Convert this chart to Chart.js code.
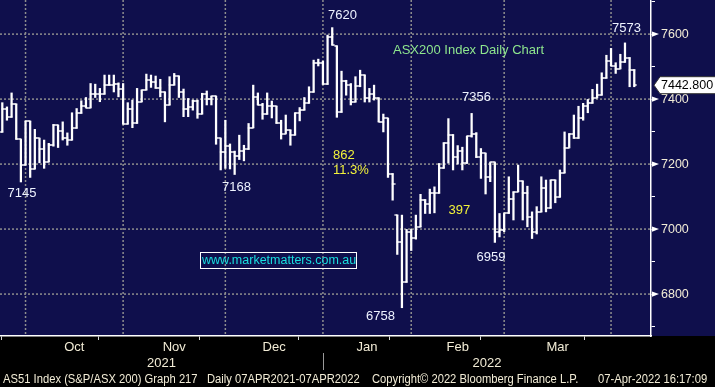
<!DOCTYPE html>
<html><head><meta charset="utf-8">
<script src="https://cdn.jsdelivr.net/npm/chart.js@4.4.1/dist/chart.umd.min.js"></script>
<style>
html,body{margin:0;padding:0;background:#000;}
#wrap{position:relative;width:715px;height:387px;overflow:hidden;}
#c{position:absolute;left:0;top:0;}
.t{position:absolute;white-space:nowrap;font-family:"Liberation Sans",Arial,sans-serif;line-height:1;font-size:13px;}
.n{color:#eef3ff;}
.yel{color:#f2f23a;}
.ft{font-size:12px;color:#f2ecd6;top:372.7px;transform:scaleX(0.935);transform-origin:0 0;}
#url{position:absolute;left:200px;top:251.5px;width:157px;height:17.5px;box-sizing:border-box;border:1.5px solid #fff;
 color:#19dede;font-family:"Liberation Sans",Arial,sans-serif;font-size:12.5px;line-height:1;display:flex;align-items:center;padding-left:1px;white-space:nowrap;}
</style></head><body>
<div id="wrap">
<canvas id="c" width="715" height="387"></canvas>
<div class="t n" style="left:328px;top:8.3px">7620</div>
<div class="t n" style="left:612px;top:21px">7573</div>
<div class="t n" style="left:462px;top:90.3px">7356</div>
<div class="t n" style="left:7.5px;top:185.6px">7145</div>
<div class="t n" style="left:222px;top:180.3px">7168</div>
<div class="t n" style="left:476.5px;top:250.3px">6959</div>
<div class="t n" style="left:366px;top:309.3px">6758</div>
<div class="t yel" style="left:333px;top:147.6px">862</div>
<div class="t yel" style="left:333px;top:163.3px">11.3%</div>
<div class="t yel" style="left:448.5px;top:203.3px">397</div>
<div class="t" style="left:393px;top:43.3px;color:#8ee68e">ASX200 Index Daily Chart</div>
<div id="url">www.marketmatters.com.au</div>
<div class="t ft" style="left:2.5px">AS51 Index (S&amp;P/ASX 200) Graph 217</div>
<div class="t ft" style="left:206.5px">Daily 07APR2021-07APR2022</div>
<div class="t ft" style="left:372px">Copyright© 2022 Bloomberg Finance L.P.</div>
<div class="t ft" style="left:598px">07-Apr-2022 16:17:09</div>
</div>
<script>
// ---- DATA ----
const dates = [
"2021-09-23","2021-09-24","2021-09-27","2021-09-28","2021-09-29","2021-09-30",
"2021-10-01","2021-10-04","2021-10-05","2021-10-06","2021-10-07","2021-10-08","2021-10-11","2021-10-12","2021-10-13","2021-10-14","2021-10-15","2021-10-18","2021-10-19","2021-10-20","2021-10-21","2021-10-22","2021-10-25","2021-10-26","2021-10-27","2021-10-28","2021-10-29",
"2021-11-01","2021-11-02","2021-11-03","2021-11-04","2021-11-05","2021-11-08","2021-11-09","2021-11-10","2021-11-11","2021-11-12","2021-11-15","2021-11-16","2021-11-17","2021-11-18","2021-11-19","2021-11-22","2021-11-23","2021-11-24","2021-11-25","2021-11-26","2021-11-29","2021-11-30",
"2021-12-01","2021-12-02","2021-12-03","2021-12-06","2021-12-07","2021-12-08","2021-12-09","2021-12-10","2021-12-13","2021-12-14","2021-12-15","2021-12-16","2021-12-17","2021-12-20","2021-12-21","2021-12-22","2021-12-23","2021-12-24","2021-12-29","2021-12-30","2021-12-31",
"2022-01-04","2022-01-05","2022-01-06","2022-01-07","2022-01-10","2022-01-11","2022-01-12","2022-01-13","2022-01-14","2022-01-17","2022-01-18","2022-01-19","2022-01-20","2022-01-21","2022-01-24","2022-01-25","2022-01-27","2022-01-28","2022-01-31",
"2022-02-01","2022-02-02","2022-02-03","2022-02-04","2022-02-07","2022-02-08","2022-02-09","2022-02-10","2022-02-11","2022-02-14","2022-02-15","2022-02-16","2022-02-17","2022-02-18","2022-02-21","2022-02-22","2022-02-23","2022-02-24","2022-02-25","2022-02-28",
"2022-03-01","2022-03-02","2022-03-03","2022-03-04","2022-03-07","2022-03-08","2022-03-09","2022-03-10","2022-03-11","2022-03-14","2022-03-15","2022-03-16","2022-03-17","2022-03-18","2022-03-21","2022-03-22","2022-03-23","2022-03-24","2022-03-25","2022-03-28","2022-03-29","2022-03-30","2022-03-31",
"2022-04-01","2022-04-04","2022-04-05","2022-04-06","2022-04-07"];

const openV = [7298,7371,7344,7385,7276,7197,7332,7185,7279,7248,
7207,7258,7320,7302,7279,7274,7310,7358,7379,7374,
7415,7415,7415,7443,7443,7448,7430,7323,7371,7325,
7392,7428,7458,7453,7433,7422,7382,7443,7471,7421,
7369,7376,7395,7354,7415,7399,7409,7279,7238,7255,
7236,7225,7240,7245,7312,7405,7382,7353,7378,7378,
7325,7294,7305,7289,7356,7366,7387,7421,7510,7512,
7445,7590,7564,7359,7455,7443,7391,7440,7474,7403,
7415,7404,7330,7341,7171,7043,6959,6836,6992,6972,
7007,7089,7077,7110,7110,7187,7266,7291,7222,7240,
7204,7286,7292,7222,7233,7161,7205,6990,6997,7048,
7094,7115,7148,7110,7036,6991,7053,7127,7064,7151,
7098,7173,7251,7294,7279,7341,7378,7387,7404,7412,
7464,7517,7502,7494,7513,7528,7491];

const highV = [7389,7376,7419,7385,7276,7332,7332,7307,7279,7274,
7264,7322,7320,7330,7296,7358,7371,7395,7405,7448,
7446,7433,7474,7474,7474,7450,7448,7389,7397,7433,
7428,7477,7474,7471,7461,7422,7469,7479,7471,7431,
7402,7397,7397,7418,7425,7409,7409,7279,7335,7262,
7240,7289,7258,7325,7443,7419,7387,7419,7394,7378,
7335,7351,7305,7358,7374,7405,7438,7520,7523,7517,
7597,7620,7564,7486,7458,7448,7469,7489,7474,7433,
7443,7404,7354,7341,7171,7043,7043,6999,6999,7043,
7107,7091,7123,7130,7202,7266,7340,7291,7257,7252,
7286,7356,7297,7248,7233,7205,7205,7048,7048,7161,
7115,7197,7148,7132,7053,7069,7161,7151,7151,7151,
7182,7299,7294,7351,7378,7387,7399,7430,7446,7481,
7535,7556,7512,7538,7573,7528,7491];

const lowV = [7298,7335,7344,7276,7145,7197,7159,7185,7204,7187,
7207,7255,7251,7274,7258,7274,7310,7356,7374,7374,
7405,7392,7415,7443,7422,7407,7323,7323,7312,7325,
7392,7428,7436,7433,7407,7330,7382,7443,7405,7346,
7346,7366,7341,7354,7382,7382,7261,7182,7187,7185,
7168,7214,7210,7245,7312,7382,7338,7353,7342,7325,
7277,7294,7258,7289,7333,7366,7387,7421,7502,7445,
7445,7566,7344,7359,7412,7382,7391,7438,7391,7391,
7397,7330,7299,7159,7089,6922,6758,6836,6934,6969,
7007,7048,7048,7050,7110,7187,7203,7182,7200,7182,
7202,7283,7220,7156,7108,7146,6959,6976,6992,7048,
7028,7115,7028,7007,6971,6985,7053,7053,7064,7081,
7098,7173,7251,7279,7279,7335,7358,7387,7404,7412,
7464,7502,7479,7494,7513,7438,7438];

const closeV = [7371,7344,7385,7276,7197,7332,7185,7279,7248,7207,
7258,7320,7302,7279,7274,7310,7358,7379,7374,7415,
7415,7415,7443,7443,7448,7430,7323,7371,7325,7392,
7428,7458,7453,7433,7422,7382,7443,7471,7421,7369,
7376,7395,7354,7415,7399,7409,7279,7238,7255,7236,
7225,7240,7245,7312,7405,7382,7353,7378,7378,7325,
7294,7305,7289,7356,7366,7387,7421,7510,7512,7445,
7590,7566,7359,7455,7443,7391,7440,7474,7403,7415,
7404,7330,7341,7171,7138,6959,6836,6992,6972,7007,
7089,7077,7110,7110,7187,7266,7291,7222,7240,7204,
7286,7292,7222,7233,7161,7205,6990,6997,7048,7094,
7115,7148,7110,7036,6991,7053,7127,7064,7151,7098,
7173,7251,7294,7279,7341,7378,7387,7404,7412,7464,
7517,7502,7494,7513,7528,7491,7442.8];

const monthNames = ["Oct","Nov","Dec","Jan","Feb","Mar"];
const yearNames = ["2021","2022"];
const yTickValues = [6700,6800,6900,7000,7100,7200,7300,7400,7500,7600,7700];
const yLabelled = [6800,7000,7200,7400,7600];
const lastPrice = 7442.8;

// ---- STYLE ----
const FONT = '"Liberation Sans", Arial, sans-serif';
const NAVY = '#0f0f4c';
const GRID = '#8e8e8e';
const LABEL = '#f2ecd6';
const X_MIN = -0.495, X_MAX = 139.6;

// month boundaries = last trading day of each month (derived from the dates)
const bounds = [];
for (let i = 0; i < dates.length - 1; i++) {
  if (dates[i].slice(0,7) !== dates[i+1].slice(0,7)) bounds.push(i);
}
const mids = [];
for (let k = 0; k < bounds.length - 1; k++) mids.push((bounds[k] + bounds[k+1]) / 2);
const yearBreak = bounds.find(i => dates[i].slice(0,4) !== dates[i+1].slice(0,4));
const yearMids = [(X_MIN + yearBreak) / 2, (yearBreak + X_MAX) / 2];

const xTicks = [];
bounds.forEach(v => xTicks.push({value: v, label: '', b: true}));
mids.forEach((v, k) => xTicks.push({value: v, label: monthNames[k], b: false}));
xTicks.sort((a, b) => a.value - b.value);

function tickImg(left) {
  const c = document.createElement('canvas');
  c.width = 6; c.height = 2;
  const g = c.getContext('2d');
  g.fillStyle = '#ffffff';
  g.fillRect(left ? 0.5 : 2.5, 0.25, 3, 1.5);
  return c;
}

function noPad(s) { s.paddingLeft = 0; s.paddingRight = 0; s.paddingTop = 0; s.paddingBottom = 0; }

const extras = {
  id: 'extras',
  beforeDraw(chart) {
    const {ctx, chartArea: a} = chart;
    ctx.save();
    ctx.fillStyle = '#000';
    ctx.fillRect(0, 0, chart.width, chart.height);
    ctx.fillStyle = NAVY;
    ctx.fillRect(0, 0, chart.width, a.bottom);
    ctx.restore();
  },
  beforeDatasetsDraw(chart) {
    const {ctx, chartArea: a} = chart;
    const ys = chart.scales.y, xs = chart.scales.x;
    ctx.save();
    ctx.strokeStyle = GRID;
    ctx.lineWidth = 1.5;
    ctx.setLineDash([2, 2]);
    yLabelled.forEach(v => {
      const p = ys.getPixelForValue(v);
      ctx.beginPath(); ctx.moveTo(a.left, p); ctx.lineTo(a.right, p); ctx.stroke();
    });
    bounds.forEach(v => {
      const p = xs.getPixelForValue(v);
      ctx.beginPath(); ctx.moveTo(p, a.top); ctx.lineTo(p, a.bottom); ctx.stroke();
    });
    ctx.restore();
  },
  afterDraw(chart) {
    const {ctx, chartArea: a} = chart;
    const ys = chart.scales.y, xs = chart.scales.x;
    ctx.save();
    ctx.fillStyle = '#ffffff';
    yLabelled.forEach(v => {
      const py = ys.getPixelForValue(v);
      ctx.beginPath();
      ctx.moveTo(a.right + 1, py - 2.7);
      ctx.lineTo(a.right + 8, py);
      ctx.lineTo(a.right + 1, py + 2.7);
      ctx.closePath();
      ctx.fill();
    });
    // last price box
    const py = ys.getPixelForValue(lastPrice);
    ctx.beginPath();
    ctx.moveTo(a.right + 3, py);
    ctx.lineTo(a.right + 9, py - 8.5);
    ctx.lineTo(chart.width + 2, py - 8.5);
    ctx.lineTo(chart.width + 2, py + 8.5);
    ctx.lineTo(a.right + 9, py + 8.5);
    ctx.closePath();
    ctx.fillStyle = '#ffffff';
    ctx.fill();
    ctx.strokeStyle = '#333';
    ctx.lineWidth = 1;
    ctx.stroke();
    ctx.fillStyle = '#000';
    ctx.font = '12.5px ' + FONT;
    ctx.textBaseline = 'middle';
    ctx.textAlign = 'left';
    ctx.fillText(lastPrice.toFixed(3), a.right + 10, py + 0.5);
    // year separator
    const px = Math.round(xs.getPixelForValue(yearBreak)) + 0.5;
    ctx.strokeStyle = '#9a9a9a';
    ctx.lineWidth = 1;
    ctx.beginPath();
    ctx.moveTo(px, 353);
    ctx.lineTo(px, 370);
    ctx.stroke();
    ctx.restore();
  }
};

const idx = dates.map((d, i) => i);

new Chart(document.getElementById('c'), {
  type: 'bar',
  data: {
    labels: dates,
    datasets: [
      {
        type: 'bar',
        label: 'High-Low',
        data: idx.map(i => ({x: i, y: [lowV[i], highV[i]]})),
        backgroundColor: '#ffffff',
        borderWidth: 0,
        barThickness: 1.6,
        xAxisID: 'x', yAxisID: 'y',
        order: 2
      },
      {
        type: 'scatter',
        label: 'Open',
        data: idx.map(i => ({x: i, y: openV[i]})),
        pointStyle: tickImg(true),
        pointRadius: 2,
        xAxisID: 'x', yAxisID: 'y',
        order: 1
      },
      {
        type: 'scatter',
        label: 'Close',
        data: idx.map(i => ({x: i, y: closeV[i]})),
        pointStyle: tickImg(false),
        pointRadius: 2,
        xAxisID: 'x', yAxisID: 'y',
        order: 1
      }
    ]
  },
  options: {
    responsive: false,
    devicePixelRatio: 1,
    animation: false,
    events: [],
    layout: {autoPadding: false, padding: {left: 0, right: 0, top: 0, bottom: 19}},
    plugins: {legend: {display: false}, tooltip: {enabled: false}},
    scales: {
      x: {
        type: 'linear', position: 'bottom', min: X_MIN, max: X_MAX, offset: false, weight: 0,
        afterBuildTicks: s => { s.ticks = xTicks.map(t => ({value: t.value})); },
        afterFit: s => { s.height = 16; noPad(s); },
        grid: {
          drawOnChartArea: false,
          tickLength: 4,
          tickWidth: 1,
          tickColor: c => (xTicks[c.index] && xTicks[c.index].b) ? '#d8d8d8' : 'rgba(0,0,0,0)'
        },
        border: {display: true, color: '#ffffff', width: 1.5},
        ticks: {
          autoSkip: false, maxRotation: 0, padding: 0, color: LABEL,
          font: {family: FONT, size: 13},
          callback: (v, i) => xTicks[i] ? xTicks[i].label : ''
        }
      },
      xYear: {
        type: 'linear', position: 'bottom', min: X_MIN, max: X_MAX, offset: false, weight: 1,
        afterBuildTicks: s => { s.ticks = yearMids.map(v => ({value: v})); },
        afterFit: s => { s.height = 16; noPad(s); },
        grid: {display: false, drawTicks: false},
        border: {display: false},
        ticks: {
          autoSkip: false, maxRotation: 0, padding: 3.5, color: LABEL,
          font: {family: FONT, size: 13},
          callback: (v, i) => yearNames[i]
        }
      },
      y: {
        type: 'linear', position: 'right', min: 6671, max: 7705,
        afterBuildTicks: s => { s.ticks = yTickValues.map(v => ({value: v})); },
        afterFit: s => { s.width = 64; noPad(s); },
        grid: {
          drawOnChartArea: false,
          tickLength: 4,
          tickWidth: 1,
          tickColor: '#ffffff'
        },
        border: {display: true, color: '#ffffff', width: 1.5},
        ticks: {
          padding: 6, color: LABEL,
          font: {family: FONT, size: 12.5},
          callback: v => yLabelled.includes(v) ? String(v) : ''
        }
      }
    }
  },
  plugins: [extras]
});
</script>
</body></html>
